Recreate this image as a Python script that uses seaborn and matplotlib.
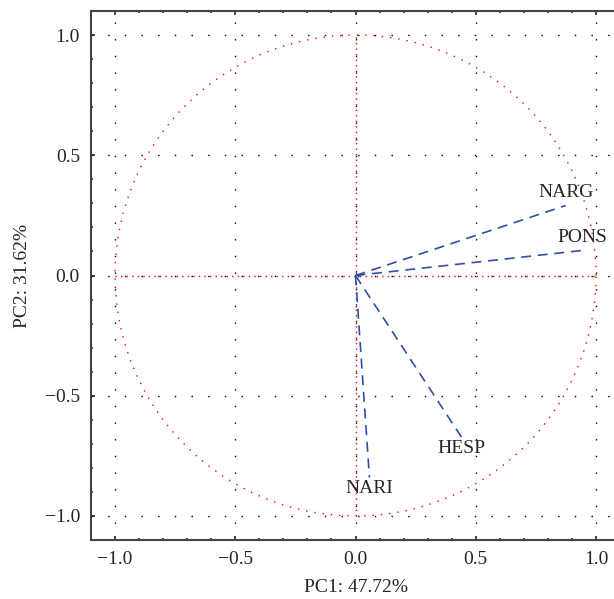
#PCA correlation circle
import seaborn as sns
import numpy as np
import pandas as pd
import matplotlib
matplotlib.use("Agg")
import matplotlib.pyplot as plt
from matplotlib.ticker import MultipleLocator

variables = ["NARG", "PONS", "HESP", "NARI"]
pc1 = [0.874, 0.942, 0.442, 0.058]
pc2 = [0.291, 0.104, -0.674, -0.840]
pc1_label = "PC1: 47.72%"
pc2_label = "PC2: 31.62%"
ticks = [-1.0, -0.5, 0.0, 0.5, 1.0]
tick_labels = ["\u22121.0", "\u22120.5", "0.0", "0.5", "1.0"]

sns.set_style("ticks")
plt.rcParams['font.family'] = ['Liberation Serif', 'DejaVu Serif']

fig = plt.figure(figsize=(6.14, 5.99), dpi=100)
ax = fig.add_axes([91/614, 59/599, 529/614, 529/599])

# grid, dotted black
for t in ticks:
    ax.plot([t, t], [-1.1, 1.1], color='black', lw=1.0, ls=(0, (1, 11)), zorder=1)
    ax.plot([-1.1, 1.1], [t, t], color='black', lw=1.0, ls=(0, (1, 11)), zorder=1)

# unit circle and axes through origin, red dotted
ang = np.linspace(0, 2*np.pi, 400)
ax.plot(np.cos(ang), np.sin(ang), color='red', lw=1.0, ls=(0, (1, 5)), zorder=2)
ax.plot([0, 0], [-1.0, 1.0], color='red', lw=1.0, ls=(0, (1, 3)), zorder=2)
ax.plot([-1.0, 1.0], [0, 0], color='red', lw=1.0, ls=(0, (1, 3)), zorder=2)

# loading vectors
for name, x, y in zip(variables, pc1, pc2):
    df = pd.DataFrame({'x': [0, x], 'y': [0, y]})
    sns.lineplot(data=df, x='x', y='y', ax=ax, color='#2e4fa3', lw=1.2,
                 sort=False, estimator=None, dashes=False, zorder=3)
    ax.lines[-1].set_linestyle((0, (6, 4)))
    off = 0.055 if y > 0 else -0.045
    ax.text(x, y + off, name, fontsize=14, ha='center', va='center', zorder=4)

ax.set_xlim(-1.1, 1.1)
ax.set_ylim(-1.1, 1.1)
ax.set_xticks(ticks)
ax.set_xticklabels(tick_labels)
ax.set_yticks(ticks)
ax.set_yticklabels(tick_labels)
ax.xaxis.set_minor_locator(MultipleLocator(0.1))
ax.yaxis.set_minor_locator(MultipleLocator(0.1))
ax.tick_params(which='major', direction='in', length=3, width=1.2, labelsize=14,
               top=True, right=True, pad=8)
ax.tick_params(which='minor', direction='in', length=1.5, width=1.2,
               top=True, right=True)
for s in ax.spines.values():
    s.set_color('#444444')
    s.set_linewidth(1.5)
ax.set_xlabel(pc1_label, fontsize=14, labelpad=8)
ax.set_ylabel(pc2_label, fontsize=14, labelpad=10)

fig.savefig("out.png", dpi=100)
